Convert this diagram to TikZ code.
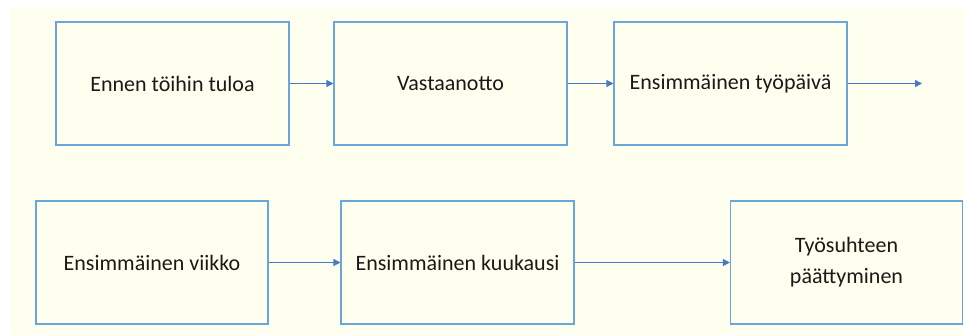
\documentclass[tikz,border=0pt]{standalone}
\usepackage{fontspec}
\setmainfont{Carlito}
\usetikzlibrary{arrows.meta}
\definecolor{paper}{HTML}{FFFFF0}
\definecolor{boxline}{HTML}{6AA5DC}
\definecolor{arrowline}{HTML}{4A78C8}
\tikzset{
  stagebox/.style={draw=boxline, line width=1.1pt, fill=paper,
    minimum width=233pt, minimum height=123pt, inner sep=0pt,
    align=center, text=black!90, font=\fontsize{22}{31}\selectfont},
  flow/.style={draw=arrowline, line width=1.3pt,
    -{Triangle[length=7pt,width=7pt]}}
}
\begin{document}
\begin{tikzpicture}[x=1pt,y=-1pt]
  % page and panel
  \fill[white] (0,0) rectangle (964,335);
  \fill[paper] (11,8) rectangle (964,335);
  \useasboundingbox (0,0) rectangle (964,335);

  % first row
  \node[stagebox] (tulo)  at (172.5,83.5) {Ennen töihin tuloa};
  \node[stagebox] (vasta) at (450.5,83.5) {Vastaanotto};
  \node[stagebox] (paiva) at (730.5,83.5) {Ensimmäinen työpäivä};
  \coordinate (jatko) at (922,83.5);

  % second row
  \node[stagebox, minimum width=232pt] (viikko) at (152,262.5) {Ensimmäinen viikko};
  \node[stagebox] (kuukausi) at (457.5,262.5) {Ensimmäinen kuukausi};
  \node[stagebox, minimum width=232pt] (loppu) at (846.5,262.5) {Työsuhteen\\päättyminen};

  % connectors
  \draw[flow] (tulo) -- (vasta);
  \draw[flow] (vasta) -- (paiva);
  \draw[flow] (paiva) -- (jatko);
  \draw[flow] (viikko) -- (kuukausi);
  \draw[flow] (kuukausi) -- (loppu);
\end{tikzpicture}
\end{document}
